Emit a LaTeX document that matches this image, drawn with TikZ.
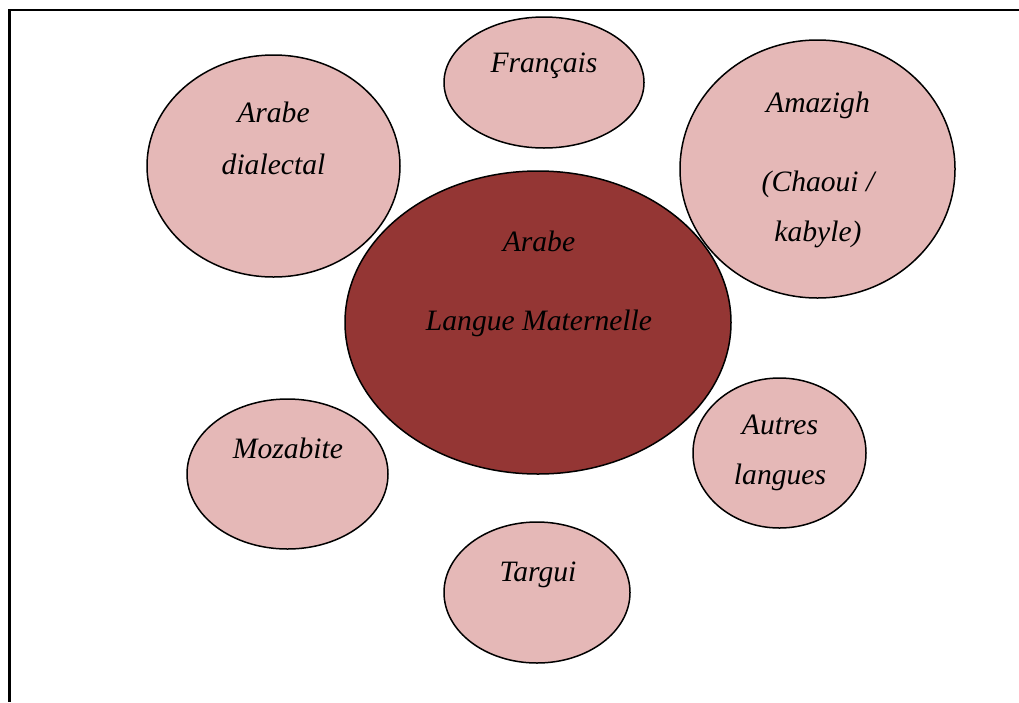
\documentclass[tikz,border=0pt]{standalone}
\usepackage{fontspec}
\setmainfont{Liberation Serif}
\usetikzlibrary{shapes.geometric}
\definecolor{darkred}{HTML}{943634}
\definecolor{lightpink}{HTML}{E5B8B7}
\tikzset{
  bubble/.style={ellipse, draw=black, line width=1.5pt, fill=lightpink, inner sep=0pt},
  core/.style={ellipse, draw=black, line width=1.5pt, fill=darkred, inner sep=0pt},
  txt/.style={anchor=base, inner sep=0pt, font=\fontsize{29.6}{34}\selectfont\itshape},
  frame/.style={line width=2.4pt}
}
\begin{document}
\begin{tikzpicture}[x=1pt,y=-1pt]
\useasboundingbox (0,0) rectangle (1019,702);
\coordinate (tl) at (9.5,10);
\coordinate (tr) at (1019,10);
\coordinate (bl) at (9.5,702);
\draw[frame] (tr) -- (tl) -- (bl);
% ellipses
\node[bubble, minimum width=253pt, minimum height=222pt] (dial) at (273.5,166) {};
\node[bubble, minimum width=200pt, minimum height=131pt] (fr) at (544,82.5) {};
\node[core, minimum width=386pt, minimum height=303pt] (main) at (538,322.5) {};
\node[bubble, minimum width=275pt, minimum height=258pt] (amz) at (817.5,169) {};
\node[bubble, minimum width=201pt, minimum height=150pt] (moz) at (287.5,474) {};
\node[bubble, minimum width=173pt, minimum height=150pt] (aut) at (779.5,453) {};
\node[bubble, minimum width=186pt, minimum height=141pt] (tar) at (537,592.5) {};
% texts
\node[txt] (frt) at (544,72) {Français};
\node[txt] (dialt1) at (273.5,122) {Arabe};
\node[txt] (dialt2) at (273.5,174) {dialectal};
\node[txt] (amzt1) at (818,112) {Amazigh};
\node[txt] (amzt2) at (818,191) {(Chaoui /};
\node[txt] (amzt3) at (818,241) {kabyle)};
\node[txt] (maint1) at (539,251) {Arabe};
\node[txt] (maint2) at (539,330) {Langue Maternelle};
\node[txt] (mozt) at (288,458) {Mozabite};
\node[txt] (autt1) at (780,434) {Autres};
\node[txt] (autt2) at (780,484) {langues};
\node[txt] (tart) at (538,581) {Targui};
\end{tikzpicture}
\end{document}
